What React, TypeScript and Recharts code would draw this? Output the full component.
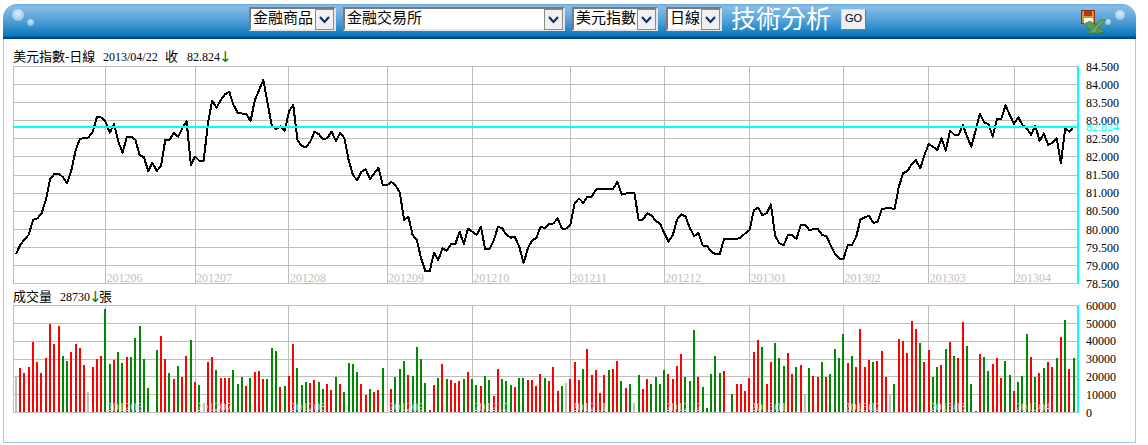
import { Bar, CartesianGrid, ComposedChart, Line, ReferenceLine, XAxis, YAxis } from "recharts";

const closePrices = [
  79.31, 79.57, 79.72, 79.85, 80.26, 80.3, 80.44, 80.81, 81.38, 81.53,
  81.54, 81.44, 81.27, 81.64, 82.19, 82.5, 82.52, 82.54, 82.7, 83.11,
  83.09, 82.97, 82.67, 82.91, 82.42, 82.12, 82.56, 82.56, 82.47, 82.05,
  81.99, 81.61, 81.84, 81.61, 81.75, 82.47, 82.47, 82.67, 82.56, 82.79,
  82.99, 81.78, 82.01, 81.89, 81.89, 82.93, 83.56, 83.36, 83.57, 83.73,
  83.8, 83.44, 83.22, 83.2, 83.19, 82.99, 83.57, 83.85, 84.13, 83.48,
  82.85, 82.77, 82.85, 82.72, 83.25, 83.44, 82.47, 82.3, 82.27, 82.42,
  82.7, 82.63, 82.49, 82.52, 82.7, 82.44, 82.67, 82.52, 81.91, 81.5,
  81.36, 81.59, 81.66, 81.39, 81.55, 81.7, 81.22, 81.22, 81.31, 81.22,
  81.01, 80.25, 80.35, 79.84, 79.7, 79.19, 78.84, 78.84, 79.35, 79.15,
  79.47, 79.41, 79.59, 79.59, 79.93, 79.59, 80.02, 79.93, 79.84, 80.07,
  79.45, 79.45, 79.68, 80.07, 80.03, 79.84, 79.77, 79.78, 79.52, 79.06,
  79.47, 79.69, 79.76, 80.07, 80.03, 80.14, 80.16, 80.3, 80.02, 80.02,
  80.14, 80.72, 80.85, 80.73, 80.9, 80.9, 81.1, 81.12, 81.12, 81.12,
  81.12, 81.31, 80.96, 80.99, 80.99, 80.99, 80.25, 80.27, 80.44, 80.38,
  80.23, 80.16, 79.89, 79.66, 79.84, 80.27, 80.41, 80.35, 80.03, 79.81,
  79.9, 79.55, 79.54, 79.38, 79.31, 79.31, 79.73, 79.73, 79.73, 79.73,
  79.78, 79.89, 79.98, 80.53, 80.6, 80.39, 80.44, 80.69, 79.81, 79.61,
  79.56, 79.84, 79.84, 79.73, 80.12, 80.12, 79.98, 80.0, 80.01, 79.84,
  79.81, 79.56, 79.33, 79.19, 79.17, 79.56, 79.56, 79.79, 80.27, 80.33,
  80.37, 80.18, 80.2, 80.56, 80.58, 80.58, 80.56, 81.18, 81.55, 81.61,
  81.8, 81.91, 81.68, 82.05, 82.36, 82.28, 82.19, 82.51, 82.17, 82.73,
  82.61, 82.61, 82.88, 82.56, 82.28, 82.74, 83.2, 82.95, 82.91, 82.56,
  83.04, 83.04, 83.43, 83.16, 82.91, 83.1, 82.88, 82.79, 82.61, 82.86,
  82.44, 82.65, 82.33, 82.39, 82.51, 81.82, 82.79, 82.7, 82.84, 82.824,
];

const volumes = [
  20000, 24900, 22100, 25400, 39400, 28200, 22100, 30500, 49500, 38300,
  48400, 31600, 28800, 33800, 38300, 36100, 26500, 11400, 25400, 29900,
  31600, 57900, 27100, 29300, 33800, 27700, 31000, 31000, 41700, 48400,
  29900, 13600, 0, 35000, 42800, 29900, 22100, 18700, 26000, 19800,
  31600, 40600, 17000, 15300, 5200, 28200, 31000, 23700, 19300, 19300,
  19300, 23700, 15900, 19800, 14800, 19300, 22600, 23200, 18700, 18700,
  36100, 34400,
  14200, 14800, 20400, 38300, 24900, 15300, 17000, 16500, 18100, 17000,
  13100, 15900, 12500, 19800, 15900, 11400, 27700, 27100, 22600, 15900,
  9700, 13100, 11400, 12500, 24900, 0, 13100, 19800, 24300, 28800,
  20900, 20400, 36700, 29900, 16500, 1300, 15300, 19300, 27100, 18700,
  18100, 16500, 17600, 18700, 22600, 18700, 15300, 14800, 20400, 18100,
  9200, 24300, 18700, 17600, 15300, 14200, 19300, 19300, 18100, 18100,
  14800, 21500, 19300, 17600, 25400, 12000,
  14800, 16500, 18700, 28200, 18100, 24300, 35500, 20900, 23700, 10800,
  20900, 23700, 24300, 28800, 17600, 13600, 15900, 5200, 20900, 13100,
  18700, 15900, 19800, 15900, 23700, 21500, 18700, 26000, 32700, 19800,
  17600, 46200, 19800, 14200, 2400, 21500, 31600, 22100, 23200, 0,
  10300, 15900, 15900, 12000, 19300, 33800, 40600, 36700, 15900, 28200,
  38900, 30500, 26000, 33300, 21500, 25400, 26600, 9700, 24900, 20400,
  19800, 28200, 19800, 21500, 35500, 30500,
  43900, 27700, 31600, 25400, 46800, 25400, 29400, 28200, 28800, 34400,
  19800, 10300, 15900, 41100, 40000, 33300, 51200, 46800, 38900, 28200,
  35000, 19800, 25400, 26600, 35500, 39500, 31600, 30500, 50700, 37200,
  15900, 700, 32700, 31000, 23200, 27100, 30500, 19300, 28800, 20900,
  12000, 17000, 20400, 43900, 31000, 19800, 22100, 24900, 28200, 25400,
  30500, 42200, 51800, 24300, 30500, 28730,
];

// r = up day, g = down day, n = unchanged
const volumeTones = (
  "nrrrrrrrrrrggrrrrnrrrggrggrgggggngrrgrgrrgrgnrrgrrrgggrgrrrggg" +
  "rgrrgggrrggrrgrggggrrgrrgnrgggrggggrrgrgrrrgrggrggrrgggrggrrrrgrrr" +
  "gnrrrgrrrrrgrrgrgngrrggggrrrrgggrgggggrngrrrrrrgrrgggrrgrngrrgrggg" +
  "grgrrrrgrrrngrrrrrgrrggrgrgrrggrrggrrrggrgggrgrgrrgrgrg"
).split("");

const priceTicks = [78.5, 79, 79.5, 80, 80.5, 81, 81.5, 82, 82.5, 83, 83.5, 84, 84.5];
const volumeTicks = [0, 10000, 20000, 30000, 40000, 50000, 60000];
const monthLabels = ["201206", "201207", "201208", "201209", "201210", "201211", "201212", "201301", "201302", "201303", "201304"];
const monthStarts = [21, 42, 64, 87, 107, 130, 152, 172, 194, 214, 234];

const lastClose = 82.824;
const lastVolume = 28730;

const priceData = closePrices.map((price, i) => ({ i, price }));
const volumeData = volumes.map((volume, i) => ({ i, volume, tone: volumeTones[i] }));

const TONE_COLORS: Record<string, string> = { r: "#ff0000", g: "#008800", n: "#c0c0c0" };
const SERIF = '"Liberation Serif", "Noto Sans CJK TC", serif';
const GRID = "#bdbdbd";
const CYAN = "#00ffff";
const X_DOMAIN = [-0.7, 249];

function MonthTick({ x, y, payload, color }: any) {
  const label = monthLabels[monthStarts.indexOf(payload.value)];
  return (
    <text x={x + 1} y={y - 2} fill={color} fontFamily={SERIF} fontSize={12}>
      {label}
    </text>
  );
}

function VolumeBar({ x, y, width, height, payload }: any) {
  if (!height) return null;
  return (
    <rect
      x={Math.round(x)}
      y={Math.round(y)}
      width={Math.round(width)}
      height={Math.round(height)}
      fill={TONE_COLORS[payload.tone]}
    />
  );
}

function PriceChart() {
  return (
    <ComposedChart
      width={1148}
      height={300}
      data={priceData}
      margin={{ top: 66.5, right: 0, bottom: 15.5, left: 13 }}
    >
      <CartesianGrid stroke={GRID} strokeWidth={1} shapeRendering="crispEdges" />
      <XAxis
        type="number"
        dataKey="i"
        domain={X_DOMAIN}
        ticks={monthStarts}
        interval={0}
        height={1}
        axisLine={false}
        tickLine={false}
        tickSize={0}
        tickMargin={0}
        tick={<MonthTick color="#c0c0c0" />}
      />
      <YAxis
        orientation="right"
        width={70}
        domain={[78.5, 84.5]}
        ticks={priceTicks}
        interval={0}
        axisLine={false}
        tickLine={false}
        tickSize={0}
        tickMargin={8}
        tickFormatter={(v) => Number(v).toFixed(3)}
        tick={{ fill: "#000", fontSize: 12, fontFamily: SERIF }}
      />
      <ReferenceLine x={249} stroke={CYAN} strokeWidth={2} />
      <Line
        dataKey="price"
        type="linear"
        stroke="#000"
        strokeWidth={2}
        dot={false}
        isAnimationActive={false}
        strokeLinejoin="round"
        shapeRendering="crispEdges"
      />
      <ReferenceLine
        y={lastClose}
        stroke={CYAN}
        strokeWidth={2}
        label={{
          value: lastClose.toFixed(3),
          position: "right",
          offset: 8,
          fill: CYAN,
          fontSize: 12,
          fontFamily: SERIF,
        }}
      />
    </ComposedChart>
  );
}

function VolumeChart() {
  return (
    <ComposedChart
      width={1148}
      height={145}
      data={volumeData}
      margin={{ top: 5.5, right: 0, bottom: 31.5, left: 13 }}
    >
      <CartesianGrid stroke={GRID} strokeWidth={1} shapeRendering="crispEdges" />
      <XAxis
        type="number"
        dataKey="i"
        domain={X_DOMAIN}
        ticks={monthStarts}
        interval={0}
        height={1}
        axisLine={false}
        tickLine={false}
        tickSize={0}
        tickMargin={0}
        tick={<MonthTick color="#d4d4d4" />}
      />
      <YAxis
        orientation="right"
        width={70}
        domain={[0, 60000]}
        ticks={volumeTicks}
        interval={0}
        axisLine={false}
        tickLine={false}
        tickSize={0}
        tickMargin={8}
        tick={{ fill: "#000", fontSize: 12, fontFamily: SERIF }}
      />
      <ReferenceLine x={249} stroke={CYAN} strokeWidth={2} />
      <Bar dataKey="volume" barSize={2} isAnimationActive={false} shape={<VolumeBar />} />
    </ComposedChart>
  );
}

function FakeSelect({ left, width, text }: { left: number; width: number; text: string }) {
  return (
    <div
      style={{
        position: "absolute",
        left,
        top: 7,
        width: width - 4,
        height: 20,
        background: "#fff",
        borderStyle: "solid",
        borderWidth: 2,
        borderColor: "#7a7a7a #e6e6e6 #e6e6e6 #7a7a7a",
        fontFamily: SERIF,
        fontSize: 15,
        lineHeight: "18px",
        boxSizing: "content-box",
        color: "#000",
        whiteSpace: "nowrap",
      }}
    >
      <span style={{ marginLeft: 2 }}>{text}</span>
      <svg
        width={19}
        height={21}
        style={{ position: "absolute", right: 0, top: 0 }}
      >
        <rect x={0.5} y={0.5} width={18} height={20} fill="#f0f0f0" stroke="#8a8a8a" />
        <path d="M5 8 L9.5 13 L14 8" fill="none" stroke="#0b2a66" strokeWidth={2} />
      </svg>
    </div>
  );
}

function ExcelIcon() {
  return (
    <svg width={28} height={30} style={{ position: "absolute", left: 1079, top: 7 }}>
      <rect x={2.5} y={3.5} width={13} height={13} fill="#d9962f" stroke="#8c2f12" />
      <rect x={5} y={4} width={8} height={5} fill="#b03a1c" />
      <rect x={5} y={11} width={9} height={6} fill="#fff" />
      <path d="M5 17 L11 14 L26 25 L15 27 Z" fill="#5c9c52" stroke="#2f6b2f" strokeWidth={0.6} />
      <path d="M9 26 L17 18 L21 13 L27 13 L19 21 L17 26 Z" fill="#6aa65e" stroke="#2f6b2f" strokeWidth={0.6} />
    </svg>
  );
}

function Header() {
  return (
    <div
      style={{
        position: "absolute",
        left: 3,
        top: 4,
        width: 1133,
        height: 35,
        borderRadius: "14px 14px 0 0",
        background:
          "linear-gradient(to bottom, #6fa9d6 0%, #86bde8 8%, #4f9ed6 50%, #0a78bc 90%, #005a96 94%, #003f78 100%)",
      }}
    />
  );
}

function Bubble({ x, y, r }: { x: number; y: number; r: number }) {
  return (
    <div
      style={{
        position: "absolute",
        left: x - r,
        top: y - r,
        width: r * 2,
        height: r * 2,
        borderRadius: "50%",
        background: "radial-gradient(circle at 50% 40%, rgba(255,255,255,0.75), rgba(255,255,255,0.25))",
      }}
    />
  );
}

function Caption({ left, top, size = 12, color = "#000", font = SERIF, children }: any) {
  return (
    <div
      style={{
        position: "absolute",
        left,
        top,
        fontFamily: font,
        fontSize: size,
        lineHeight: "14px",
        color,
        whiteSpace: "pre",
      }}
    >
      {children}
    </div>
  );
}

export default function App() {
  return (
    <div
      style={{
        position: "absolute",
        left: 0,
        top: 0,
        width: 1148,
        height: 445,
        background: "#fff",
        overflow: "hidden",
      }}
    >
      <div
        style={{
          position: "absolute",
          left: 3,
          top: 30,
          width: 1131,
          height: 412,
          border: "1px solid #9ccbea",
          borderTop: "none",
        }}
      />
      <Header />
      <Bubble x={18} y={15} r={6} />
      <Bubble x={30} y={22} r={3.5} />
      <Bubble x={1120} y={15} r={5} />
      <Bubble x={1108} y={22} r={3} />

      <FakeSelect left={249} width={87} text="金融商品" />
      <FakeSelect left={343} width={222} text="金融交易所" />
      <FakeSelect left={572} width={86} text="美元指數" />
      <FakeSelect left={666} width={56} text="日線" />
      <div
        style={{
          position: "absolute",
          left: 731,
          top: 5,
          fontFamily: SERIF,
          fontSize: 25,
          lineHeight: "30px",
          color: "#fff",
          whiteSpace: "nowrap",
        }}
      >
        技術分析
      </div>
      <div
        style={{
          position: "absolute",
          left: 841,
          top: 9,
          width: 23,
          height: 19,
          background: "#f0f0f0",
          border: "1px solid #d8d8d8",
          borderRightColor: "#777",
          borderBottomColor: "#777",
          fontFamily: '"Liberation Sans", sans-serif',
          fontSize: 11,
          lineHeight: "16px",
          textAlign: "center",
          color: "#000",
        }}
      >
        GO
      </div>
      <ExcelIcon />

      <Caption left={13} top={50} size={13}>美元指數-日線</Caption>
      <Caption left={103} top={50}>2013/04/22</Caption>
      <Caption left={165} top={50} size={13}>收</Caption>
      <Caption left={187} top={50}>{lastClose.toFixed(3)}</Caption>
      <Caption left={219} top={50} size={15} color="#008000" font='"DejaVu Sans", sans-serif'>↓</Caption>

      <Caption left={13} top={290} size={13}>成交量</Caption>
      <Caption left={60} top={290}>{String(lastVolume)}</Caption>
      <Caption left={89} top={290} size={15} color="#008000" font='"DejaVu Sans", sans-serif'>↓</Caption>
      <Caption left={99} top={290} size={13}>張</Caption>

      <div style={{ position: "absolute", left: 0, top: 0 }}>
        <PriceChart />
      </div>
      <div style={{ position: "absolute", left: 0, top: 300 }}>
        <VolumeChart />
      </div>
    </div>
  );
}
